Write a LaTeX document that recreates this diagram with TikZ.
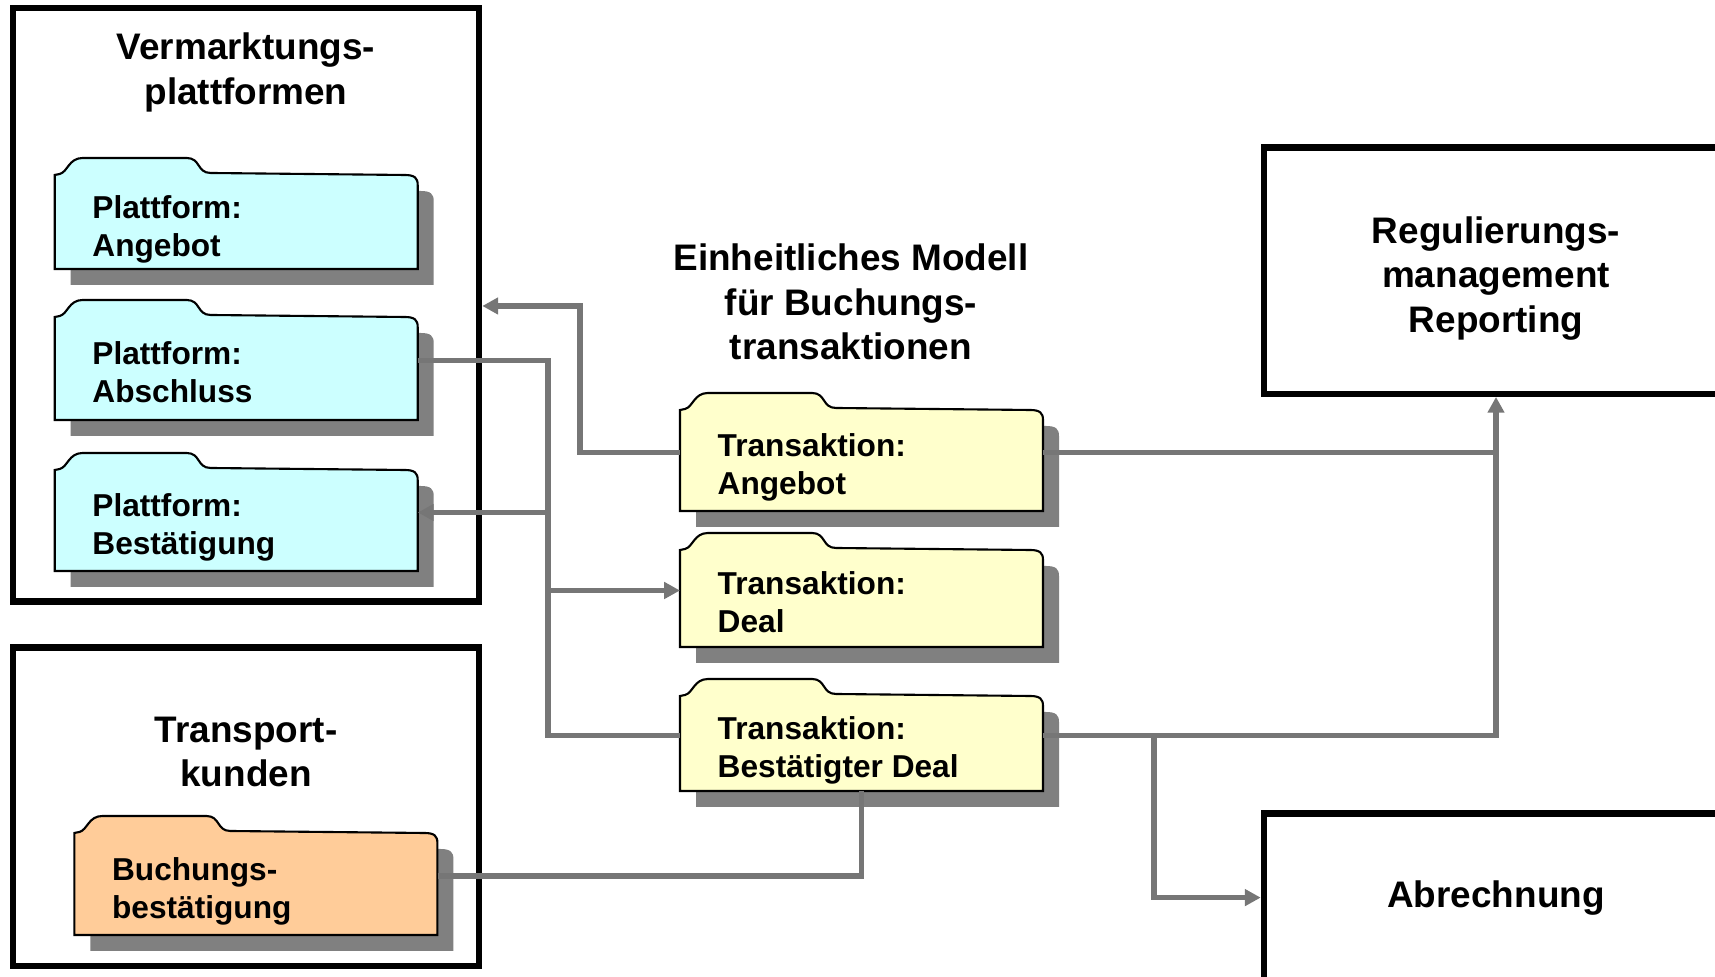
\documentclass[tikz,border=0pt]{standalone}
\usepackage{fontspec}
\setmainfont{Liberation Sans}
\usepackage{tikz}
\usetikzlibrary{arrows.meta,positioning,calc,backgrounds}
\definecolor{folderCyan}{RGB}{204,255,255}
\definecolor{folderYellow}{RGB}{255,255,204}
\definecolor{folderOrange}{RGB}{255,204,153}
\definecolor{shadowGray}{RGB}{128,128,128}
\definecolor{lineGray}{RGB}{118,118,118}

\newcommand{\titlefont}{\fontsize{10.5}{12.6}\selectfont\bfseries}
\newcommand{\foldfont}{\fontsize{9}{10.8}\selectfont\bfseries}

% folder: name, x, body top, bottom, colour, text
\newcommand{\folder}[6]{%
  \begin{scope}[on background layer]
    \fill[shadowGray, shift={(#2+16,#3+16)}] (0,{#4-#3}) -- (0,0) -- (350,0)
      .. controls (360,0) and (363,3) .. (363,10) -- (363,{#4-#3}) -- cycle;
  \end{scope}
  \draw[foldline, fill=#5, shift={(#2,#3)}] (0,{#4-#3}) -- (0,0) -- (5,-1)
    .. controls (13,-3) and (14,-17) .. (28,-17) -- (132,-17)
    .. controls (146,-17) and (142,-2) .. (156,-2) -- (350,0)
    .. controls (360,0) and (363,3) .. (363,10) -- (363,{#4-#3}) -- cycle;
  \node[folder, minimum height={(#4-#3+16)*0.01cm}, anchor=north west] (#1) at (#2,{#3-16}) {};
  \node[foldtext] at ($(#1.west)+(37,42.4)$) {#6};
}

\begin{document}
\begin{tikzpicture}[x=0.01cm, y=-0.01cm, >={Triangle[length=4.5pt,width=4.6pt]},
    box/.style={draw, line width=1.8pt},
    title/.style={font=\titlefont, align=center},
    conn/.style={draw=lineGray, line width=1.6pt},
    folder/.style={inner sep=0pt, outer sep=0pt, minimum width=3.63cm},
    foldline/.style={draw, line width=0.6pt},
    foldtext/.style={font=\foldfont, align=left, anchor=base west, inner sep=0pt}]
  \useasboundingbox (0,0) rectangle (1715,977);
  \clip (0,0) rectangle (1715,977);

  % outer boxes
  \node[box, minimum width=4.66cm, minimum height=5.93cm] (verm) at (246,305) {};
  \node[title] (vermT) at (246,72.4) {Vermarktungs-\\plattformen};
  \node[box, minimum width=4.66cm, minimum height=3.18cm] (trans) at (246,806.6) {};
  \node[title] (transT) at (246,752) {Transport-\\kunden};
  \node[title] (modT) at (851,302) {Einheitliches Modell\\für Buchungs-\\transaktionen};
  \node[box, minimum width=4.64cm, minimum height=2.46cm] (reg) at (1496,270.7) {};
  \node[title] (regT) at (1496,278.5) {Regulierungs-\\management\\Reporting};
  \node[box, minimum width=4.64cm, minimum height=1.8cm] (abr) at (1496,903.7) {};
  \node[title] (abrT) at (1496,897.6) {Abrechnung};

  % folders
  \folder{platAng}{54.7}{175}{269}{folderCyan}{Plattform:\\Angebot}
  \folder{platAbs}{54.7}{317}{420}{folderCyan}{Plattform:\\Abschluss}
  \folder{platBest}{54.7}{470}{571}{folderCyan}{Plattform:\\Bestätigung}
  \folder{buchBest}{74.4}{833}{935}{folderOrange}{Buchungs-\\bestätigung}
  \folder{trAng}{680}{410}{511}{folderYellow}{Transaktion:\\Angebot}
  \folder{trDeal}{680}{550}{647}{folderYellow}{Transaktion:\\Deal}
  \folder{trBest}{680}{696}{791}{folderYellow}{Transaktion:\\Bestätigter Deal}

  % connectors
  \coordinate (bus) at (548,0);
  \coordinate (upleft) at (580,306);
  \coordinate (split) at (1154,0);
  \draw[conn,->] (trAng.west) -| (upleft) -- (upleft -| verm.east);
  \draw[conn,->] (platAbs.east) -| (bus |- trDeal.west) -- (trDeal.west);
  \draw[conn,->] (trBest.west) -| (bus |- platBest.east) -- (platBest.east);
  \draw[conn,->] (trAng.east) -| (reg.south);
  \draw[conn] (trBest.east) -| (trAng.east -| reg.south);
  \draw[conn,->] (split |- trBest.east) |- (abrT -| abr.west);
  \draw[conn] (buchBest.east) -| (trBest.south);
\end{tikzpicture}
\end{document}
